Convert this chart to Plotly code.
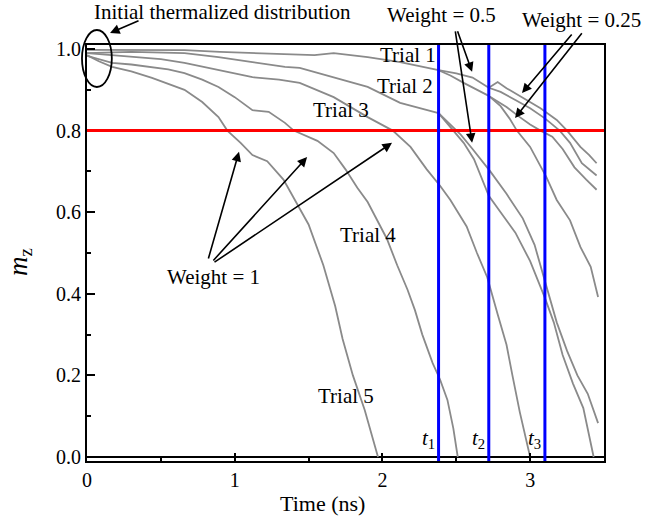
import plotly.graph_objects as go

# ---------------- data ----------------
threshold = 0.8
t_values = [2.38, 2.72, 3.10]
t_labels = ["<i>t</i><sub>1</sub>", "<i>t</i><sub>2</sub>", "<i>t</i><sub>3</sub>"]

# Trial 5 (weight 1)
trial5_x = [0, 0.08, 0.17, 0.3, 0.44, 0.55, 0.66, 0.78, 0.89, 0.95, 1.04, 1.12, 1.22, 1.33,
            1.44, 1.5, 1.6, 1.68, 1.73, 1.8, 1.88, 1.97]
trial5_y = [0.985, 0.97, 0.956, 0.945, 0.929, 0.915, 0.90, 0.87, 0.833, 0.80, 0.77, 0.74, 0.725, 0.68,
            0.61, 0.57, 0.47, 0.37, 0.29, 0.2, 0.115, 0.0]
# Trial 4 (weight 1)
trial4_x = [0, 0.08, 0.17, 0.3, 0.44, 0.55, 0.66, 0.78, 0.89, 1.0, 1.12, 1.23, 1.34, 1.4, 1.56,
            1.67, 1.75, 1.83, 1.9, 1.97, 2.03, 2.1, 2.17, 2.22, 2.27, 2.34, 2.39, 2.44, 2.48, 2.51]
trial4_y = [0.983, 0.975, 0.966, 0.962, 0.956, 0.95, 0.941, 0.925, 0.907, 0.882, 0.85, 0.846, 0.819, 0.80, 0.775,
            0.745, 0.705, 0.66, 0.625, 0.575, 0.535, 0.47, 0.41, 0.36, 0.30, 0.23, 0.19, 0.14, 0.07, 0.0]
# Trial 3 (weight 1)
trial3_x = [0, 0.15, 0.33, 0.5, 0.66, 0.89, 1.12, 1.3, 1.44, 1.67, 1.9, 2.07, 2.19, 2.3, 2.39,
            2.46, 2.57, 2.64, 2.71, 2.78, 2.84, 2.88, 2.93, 3.0]
trial3_y = [0.99, 0.985, 0.98, 0.975, 0.966, 0.949, 0.931, 0.925, 0.917, 0.882, 0.833, 0.80, 0.76, 0.705, 0.665,
            0.63, 0.565, 0.5, 0.44, 0.35, 0.275, 0.2, 0.11, 0.0]
# Trial 2 until t1, then two clones (weight 0.5)
trial2_x = [0, 0.3, 0.66, 0.89, 1.12, 1.34, 1.44, 1.67, 1.9, 2.12, 2.25, 2.38]
trial2_y = [0.99, 0.993, 0.99, 0.98, 0.968, 0.956, 0.954, 0.931, 0.907, 0.868, 0.855, 0.843]
trial2a_x = [2.38, 2.46, 2.53, 2.61, 2.73, 2.84, 2.95, 3.03, 3.1, 3.18, 3.25, 3.32, 3.39, 3.46]
trial2a_y = [0.843, 0.815, 0.79, 0.755, 0.70, 0.645, 0.585, 0.52, 0.43, 0.33, 0.26, 0.2, 0.155, 0.083]
trial2b_x = [2.38, 2.48, 2.55, 2.62, 2.72, 2.8, 2.9, 3.0, 3.1, 3.16, 3.22, 3.29, 3.36, 3.43]
trial2b_y = [0.843, 0.80, 0.77, 0.73, 0.64, 0.6, 0.55, 0.48, 0.39, 0.33, 0.25, 0.18, 0.12, 0.0]
# Trial 1 until t1, two clones until t2, then four clones (weight 0.25)
trial1_x = [0, 0.3, 0.66, 0.9, 1.12, 1.3, 1.44, 1.54, 1.67, 1.9, 2.12, 2.25, 2.38]
trial1_y = [0.998, 0.998, 0.997, 0.993, 0.99, 0.988, 0.985, 0.985, 0.99, 0.98, 0.968, 0.958, 0.948]
trial1a_x = [2.38, 2.5, 2.61, 2.68, 2.72]
trial1a_y = [0.948, 0.94, 0.93, 0.915, 0.905]
trial1b_x = [2.38, 2.46, 2.55, 2.66, 2.72]
trial1b_y = [0.948, 0.935, 0.917, 0.895, 0.885]
trial1a1_x = [2.72, 2.78, 2.84, 2.95, 3.07, 3.18, 3.25, 3.34, 3.4, 3.45]
trial1a1_y = [0.905, 0.919, 0.904, 0.88, 0.855, 0.826, 0.80, 0.76, 0.74, 0.72]
trial1a2_x = [2.72, 2.8, 2.9, 3.0, 3.1, 3.2, 3.27, 3.35, 3.45]
trial1a2_y = [0.905, 0.895, 0.875, 0.855, 0.83, 0.80, 0.77, 0.72, 0.69]
trial1b1_x = [2.72, 2.84, 2.93, 3.0, 3.07, 3.15, 3.22, 3.3, 3.38, 3.45]
trial1b1_y = [0.885, 0.858, 0.833, 0.815, 0.80, 0.785, 0.755, 0.71, 0.68, 0.655]
trial1b2_x = [2.72, 2.8, 2.86, 2.91, 3.0, 3.11, 3.18, 3.27, 3.34, 3.41, 3.46]
trial1b2_y = [0.885, 0.86, 0.83, 0.80, 0.76, 0.686, 0.63, 0.58, 0.515, 0.466, 0.392]

x_ticks = [0, 1, 2, 3]
y_ticks = [0.0, 0.2, 0.4, 0.6, 0.8, 1.0]
y_ticktext = ["0.0", "0.2", "0.4", "0.6", "0.8", "1.0"]

trial_labels = ["Trial 1", "Trial 2", "Trial 3", "Trial 4", "Trial 5"]
trial_label_x = [2.17, 2.15, 1.72, 1.90, 1.75]
trial_label_y = [0.985, 0.909, 0.850, 0.544, 0.150]

# ---------------- figure ----------------
W, H = 646, 520
M = dict(l=87, r=42, t=45, b=59)
PLOT_W = W - M["l"] - M["r"]
PLOT_H = H - M["t"] - M["b"]
X_RANGE = [0, 3.5]
Y_RANGE = [-0.0098, 1.0098]
GRAY = "#8a8a8a"
FONT = "'Liberation Serif', 'Times New Roman', Times, serif"


def to_paper(x, y):
    return ((x - X_RANGE[0]) / (X_RANGE[1] - X_RANGE[0]),
            (y - Y_RANGE[0]) / (Y_RANGE[1] - Y_RANGE[0]))


fig = go.Figure()

curves = [
    (trial5_x, trial5_y), (trial4_x, trial4_y), (trial3_x, trial3_y),
    (trial2_x, trial2_y), (trial2a_x, trial2a_y), (trial2b_x, trial2b_y),
    (trial1_x, trial1_y), (trial1a_x, trial1a_y), (trial1b_x, trial1b_y),
    (trial1a1_x, trial1a1_y), (trial1a2_x, trial1a2_y),
    (trial1b1_x, trial1b1_y), (trial1b2_x, trial1b2_y),
]
for cx, cy in curves:
    fig.add_trace(go.Scatter(x=cx, y=cy, mode="lines",
                             line=dict(color=GRAY, width=1.8), hoverinfo="skip"))

fig.add_hline(y=threshold, line=dict(color="#ff0000", width=3))
for tv in t_values:
    fig.add_vline(x=tv, line=dict(color="#0000ff", width=3))

ann = []


def text_ann(x, y, text, size=21, xanchor="center", **kw):
    px_, py_ = to_paper(x, y)
    d = dict(x=px_, y=py_, xref="paper", yref="paper", text=text, showarrow=False,
             xanchor=xanchor, yanchor="middle",
             font=dict(size=size, family=FONT, color="black"))
    d.update(kw)
    ann.append(d)


for lab, lx, ly in zip(trial_labels, trial_label_x, trial_label_y):
    text_ann(lx, ly, lab)
for lab, tv in zip(t_labels, t_values):
    text_ann(tv - 0.012, 0.045, lab, xanchor="right")

text_ann(0.853, 0.441, "Weight = 1")
text_ann(2.397, 1.083, "Weight = 0.5")
text_ann(3.345, 1.071, "Weight = 0.25")
text_ann(0.92, 1.091, "Initial thermalized distribution")

# arrows: (tail_x, tail_y, head_x, head_y) in data units
arrows = [
    (0.819, 0.483, 1.029, 0.748),
    (0.846, 0.478, 1.490, 0.735),
    (0.853, 0.475, 2.065, 0.770),
    (2.505, 1.047, 2.607, 0.944),
    (2.492, 1.047, 2.607, 0.770),
    (3.290, 1.039, 2.945, 0.892),
    (3.358, 1.042, 2.898, 0.831),
    (0.359, 1.071, 0.156, 1.039),
]
sx = PLOT_W / (X_RANGE[1] - X_RANGE[0])
sy = PLOT_H / (Y_RANGE[1] - Y_RANGE[0])
for tx, ty, hx, hy in arrows:
    hpx, hpy = to_paper(hx, hy)
    ann.append(dict(x=hpx, y=hpy, xref="paper", yref="paper",
                    ax=(tx - hx) * sx, ay=-(ty - hy) * sy,
                    text="", showarrow=True, arrowhead=2, arrowsize=1.2, arrowwidth=1.6,
                    arrowcolor="black"))

# axis titles
ann.append(dict(x=-0.13, y=0.478, xref="paper", yref="paper", text="<i>m</i><sub>z</sub>",
                xanchor="center", yanchor="middle",
                showarrow=False, textangle=-90, font=dict(size=27, family=FONT)))
ann.append(dict(x=0.455, y=-0.103, xref="paper", yref="paper", text="Time (ns)",
                xanchor="center", yanchor="middle",
                showarrow=False, font=dict(size=22, family=FONT)))

fig.update_layout(
    width=W, height=H,
    margin=M,
    plot_bgcolor="white", paper_bgcolor="white",
    showlegend=False,
    font=dict(family=FONT, size=20, color="black"),
    annotations=ann,
)
# ellipse around the initial distribution
fig.add_shape(type="circle", xref="paper", yref="paper", x0=-0.0097, x1=0.048, y0=0.899, y1=1.036,
              line=dict(color="black", width=1.8))

fig.update_xaxes(range=X_RANGE, tickvals=x_ticks, ticks="inside", ticklen=8, tickwidth=1.5,
                 tickcolor="black", showline=True, linewidth=2, linecolor="black", mirror=True,
                 showgrid=False, zeroline=False, tickfont=dict(size=20, family=FONT),
                 minor=dict(ticks="inside", ticklen=4, tickwidth=1.5, tickcolor="black",
                            dtick=0.5, tick0=0, showgrid=False))
fig.update_yaxes(range=Y_RANGE, tickvals=y_ticks, ticktext=y_ticktext, ticks="inside",
                 ticklen=8, tickwidth=1.5, tickcolor="black", showline=True, linewidth=2,
                 linecolor="black", mirror=True, showgrid=False, zeroline=True,
                 zerolinecolor="black", zerolinewidth=1.5, tickfont=dict(size=20, family=FONT),
                 minor=dict(ticks="inside", ticklen=4, tickwidth=1.5, tickcolor="black",
                            dtick=0.1, tick0=0, showgrid=False))

fig.write_html("out.html")
